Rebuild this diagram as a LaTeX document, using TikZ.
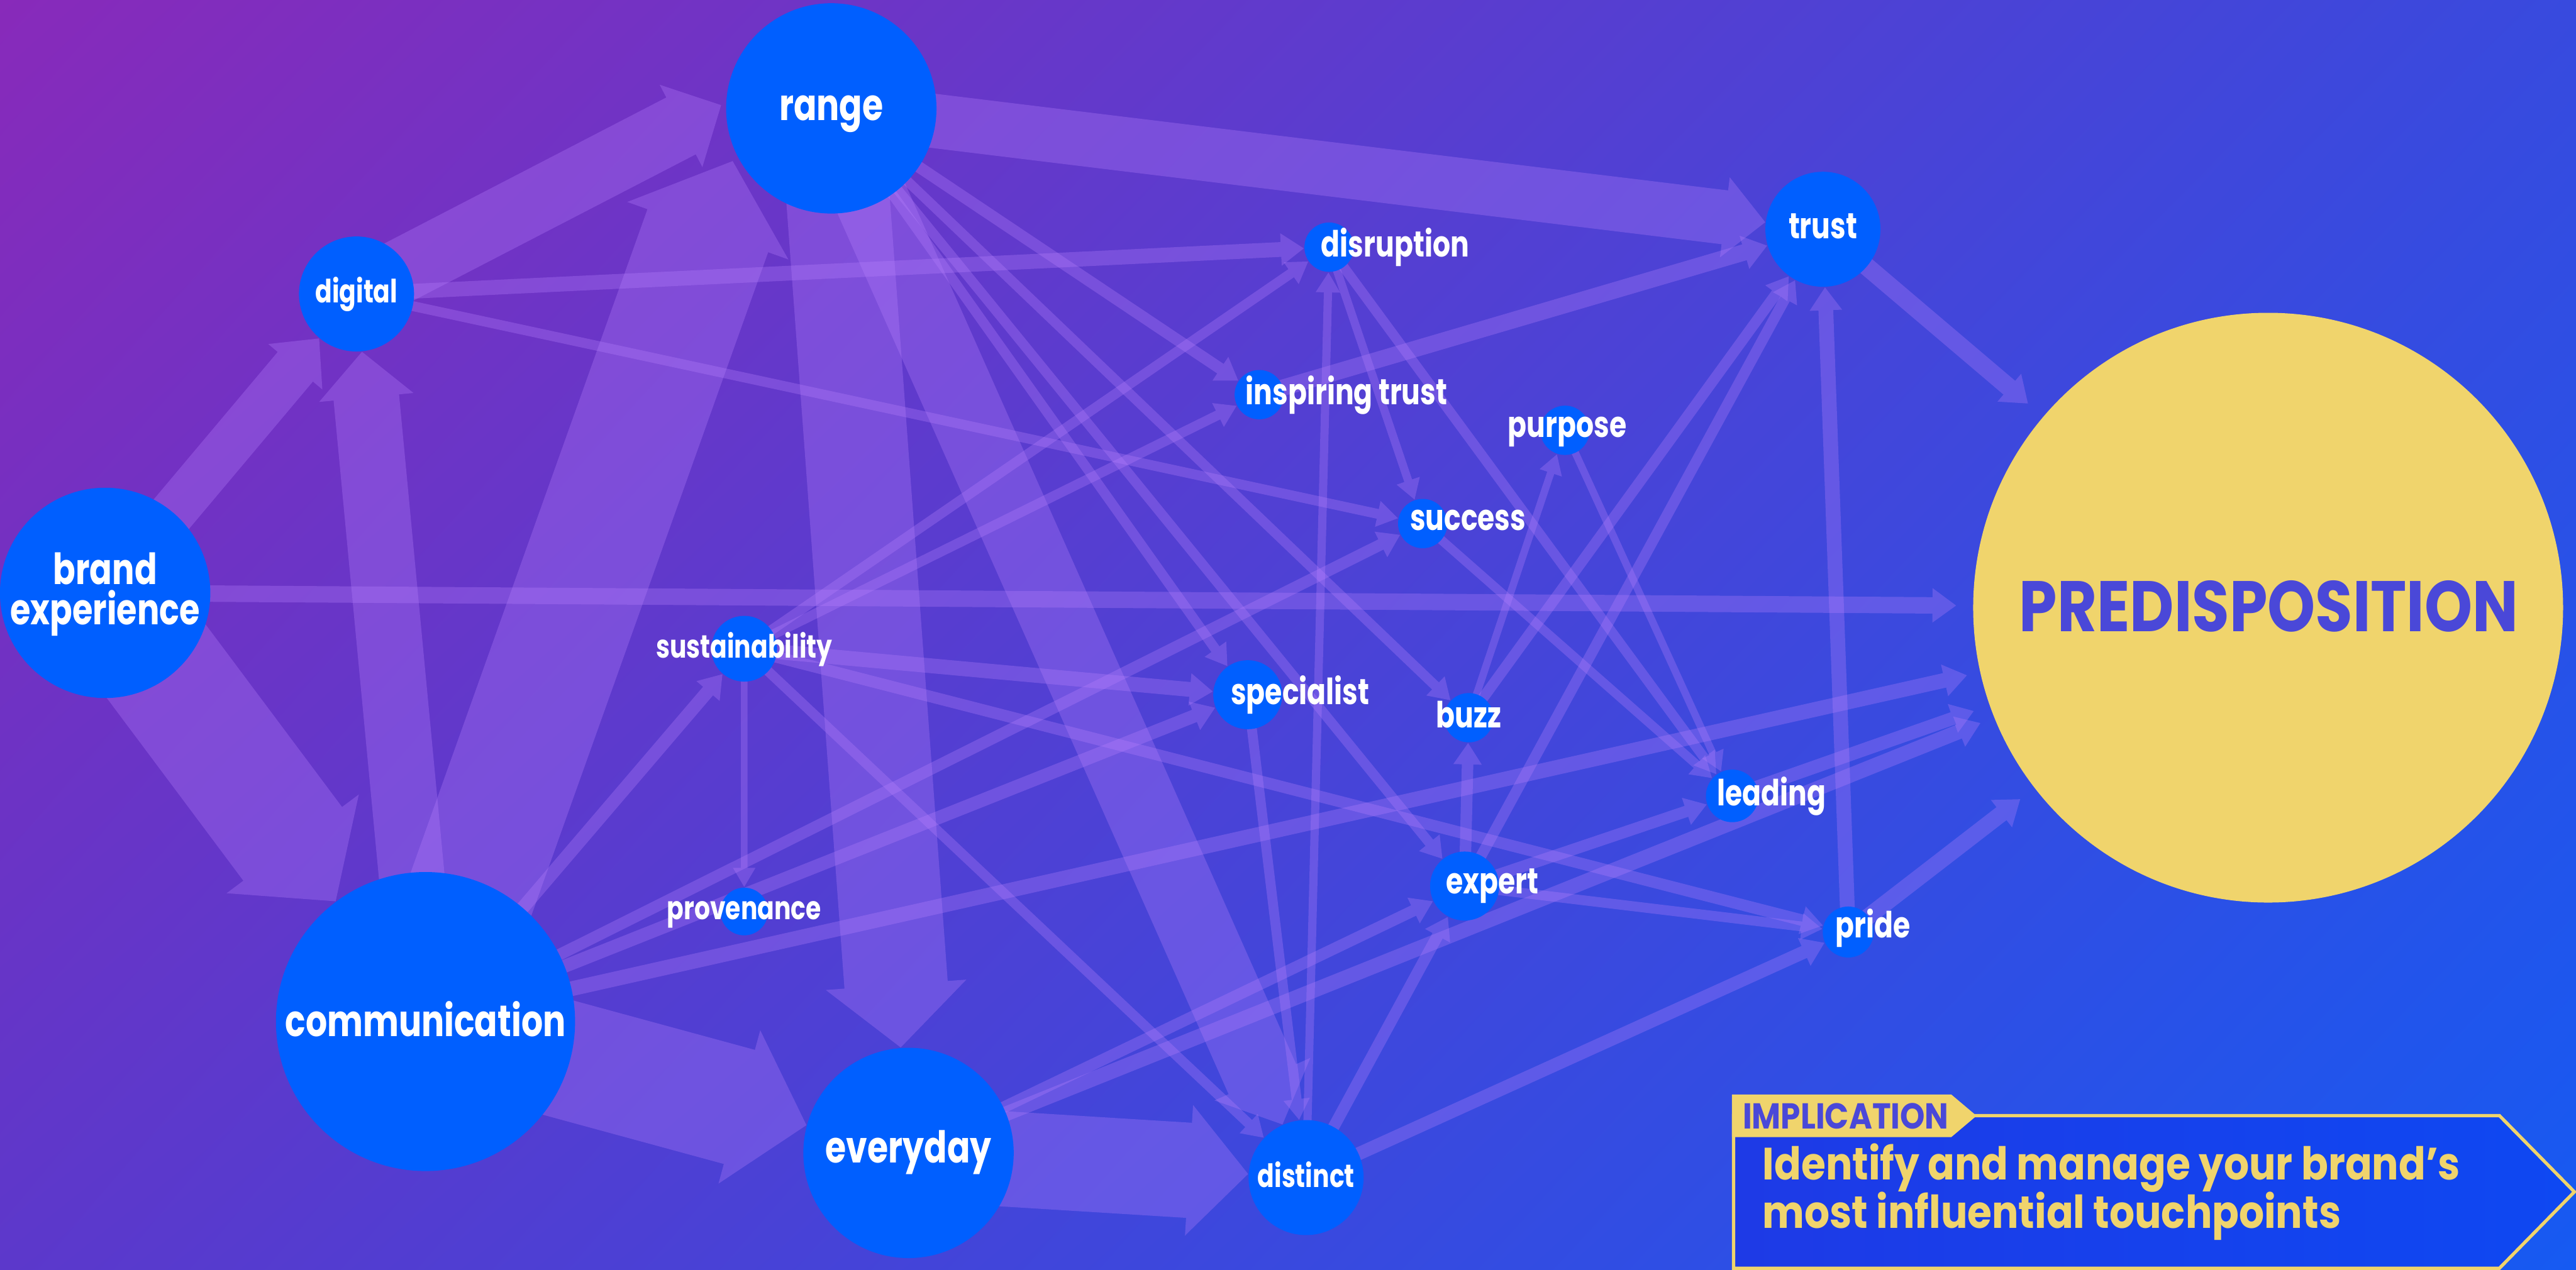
\documentclass[tikz,border=0pt]{standalone}
\usepackage{fontspec}
\setmainfont{Poppins}[FakeStretch=0.77]
\newfontfamily\widefont{Poppins}[FakeStretch=0.875]
\newfontfamily\predfont{Poppins}[FakeStretch=0.85]
\usetikzlibrary{arrows.meta,shadings}
\definecolor{nodeblue}{RGB}{0,95,255}
\definecolor{arcol}{RGB}{185,130,255}
\definecolor{predyel}{RGB}{240,212,108}
\definecolor{predtxt}{RGB}{74,72,216}
\definecolor{bgul}{RGB}{136,42,186}
\definecolor{bgur}{RGB}{56,74,222}
\definecolor{bgll}{RGB}{92,56,203}
\definecolor{bglr}{RGB}{22,90,242}
\definecolor{boxl}{RGB}{30,58,230}
\definecolor{boxr}{RGB}{14,72,242}
\pgfdeclarelayer{bgl}
\pgfdeclarelayer{arl}
\pgfsetlayers{bgl,arl,main}
\newcommand\fbig{\fontsize{19}{22}\selectfont\bfseries}
\newcommand\fbrd{\fontsize{18.6}{17.4}\selectfont\bfseries}
\newcommand\fmed{\fontsize{15.6}{18}\selectfont\bfseries}
\newcommand\fsml{\fontsize{13.9}{16}\selectfont\bfseries}
\newcommand\fpred{\predfont\fontsize{31}{34}\selectfont\bfseries}
\newcommand\fimp{\widefont\fontsize{15.6}{18}\selectfont\bfseries}
\newcommand\fmsg{\widefont\fontsize{19.6}{21}\selectfont\bfseries}
\newcommand\arw[4][]{\begin{scope}[transparency group,opacity=0.3]\draw[arcol,line width=#4*0.025cm,-{Triangle[length=0.25cm 0.45,width=0.2cm 1.2]},#1] (#2.center) -- (#3);\end{scope}}
\begin{document}
\begin{tikzpicture}[x=0.025cm,y=-0.025cm,
  nd/.style={circle,fill=nodeblue,inner sep=0pt,minimum size=#1*0.05cm},
  lb/.style={text=white,inner sep=0pt}]
\useasboundingbox (0,0) rectangle (1568,773);
\begin{pgfonlayer}{bgl}
\shade[upper left=bgul,upper right=bgur,lower left=bgll,lower right=bglr] (0,0) rectangle (1568,773);
\end{pgfonlayer}
% nodes
\node[nd=64] (rng) at (506,66) {};
\node[nd=35] (dig) at (217,179) {};
\node[nd=64] (brd) at (64,361) {};
\node[nd=91] (com) at (259,622) {};
\node[nd=64] (evd) at (553,702) {};
\node[nd=35] (dst) at (795,717) {};
\node[nd=20] (sus) at (453,395) {};
\node[nd=14.5] (prv) at (453,555) {};
\node[nd=21] (spc) at (759.5,423) {};
\node[nd=15] (buz) at (894,437) {};
\node[nd=21] (xpt) at (891.5,539.5) {};
\node[nd=16] (lea) at (1054.4,484.6) {};
\node[nd=15.5] (pri) at (1125,567.5) {};
\node[nd=15] (dis) at (809,150.5) {};
\node[nd=15] (ins) at (766.5,240.3) {};
\node[nd=15] (pur) at (952.6,262) {};
\node[nd=15] (suc) at (866,318.8) {};
\node[nd=35] (tru) at (1109.6,139.6) {};
\node[circle,fill=predyel,inner sep=0pt,minimum size=8.975cm] (pred) at (1380.6,370) {};
\coordinate (rngA) at (446,98);
\coordinate (rngB) at (439,64);
% connectors
\begin{pgfonlayer}{arl}
\arw{brd}{com}{75}
\arw{brd}{dig}{28}
\arw{com}{dig}{40}
\arw{dig}{rngB}{39}
\arw{com}{rngA}{78}
\arw{rng}{evd}{63}
\arw{rng}{dst}{45}
\arw{com}{evd}{72}
\arw{evd}{dst}{58}
\arw{rng}{tru}{33}
\arw[shorten >=0.25cm]{brd}{pred}{10}
\arw{dig}{dis}{9}
\arw{dig}{suc}{6}
\arw{rng}{ins}{7}
\arw{rng}{buz}{6}
\arw{rng}{xpt}{6}
\arw{rng}{spc}{6}
\arw{com}{sus}{8}
\arw{com}{suc}{7}
\arw{com}{spc}{8}
\arw[shorten >=0.2cm]{com}{pred}{9}
\arw{sus}{dis}{6}
\arw{sus}{ins}{6}
\arw{sus}{spc}{9}
\arw{sus}{prv}{4}
\arw{sus}{dst}{6}
\arw{sus}{pri}{7}
\arw{ins}{tru}{10}
\arw{dis}{suc}{5}
\arw{dis}{lea}{6}
\arw{suc}{lea}{5.5}
\arw{pur}{lea}{4.5}
\arw{buz}{pur}{4.5}
\arw{buz}{tru}{6.5}
\arw{xpt}{buz}{7}
\arw{xpt}{tru}{6.5}
\arw{xpt}{lea}{7}
\arw{xpt}{pri}{6}
\arw{evd}{xpt}{7}
\arw[shorten >=0.22cm]{evd}{pred}{9}
\arw{dst}{dis}{5}
\arw{dst}{xpt}{7}
\arw{dst}{pri}{8}
\arw{spc}{dst}{6}
\arw[shorten >=0.25cm]{lea}{pred}{8}
\arw{pri}{tru}{9}
\arw[shorten >=0.27cm]{pri}{pred}{10}
\arw[shorten >=0.3cm]{tru}{pred}{11}
\end{pgfonlayer}
% labels
\node[lb,font=\fbig,anchor=base] (t-rng) at (506,73.4) {range};
\node[lb,font=\fbig,anchor=base] (t-com) at (259,631) {communication};
\node[lb,font=\fbig,anchor=base] (t-evd) at (553,708.2) {everyday};
\node[lb,font=\fbrd,align=center] (t-brd) at (64,362) {brand\\experience};
\node[lb,font=\fsml,anchor=base] (t-dig) at (217,184.3) {digital};
\node[lb,font=\fmed,anchor=base] (t-tru) at (1109.6,145.4) {trust};
\node[lb,font=\fsml,anchor=base] (t-sus) at (453,400.8) {sustainability};
\node[lb,font=\fsml,anchor=base] (t-prv) at (453,559.8) {provenance};
\node[lb,font=\fsml,anchor=base] (t-dst) at (795,723) {distinct};
\node[lb,font=\fmed,anchor=base] (t-buz) at (894,443) {buzz};
\node[lb,font=\fmed,anchor=base] (t-pur) at (954,266.1) {purpose};
\node[lb,font=\fmed,anchor=base west] (t-dis) at (804,156.5) {disruption};
\node[lb,font=\fmed,anchor=base west] (t-ins) at (758,246.4) {inspiring trust};
\node[lb,font=\fmed,anchor=base west] (t-suc) at (858,322.8) {success};
\node[lb,font=\fmed,anchor=base west] (t-spc) at (749,428.8) {specialist};
\node[lb,font=\fmed,anchor=base west] (t-xpt) at (880,544.2) {expert};
\node[lb,font=\fmed,anchor=base west] (t-lea) at (1045,490.5) {leading};
\node[lb,font=\fmed,anchor=base west] (t-pri) at (1117,571.1) {pride};
\node[inner sep=0pt,text=predtxt,font=\fpred,anchor=base] (t-pred) at (1381,384.5) {PREDISPOSITION};
% implication box
\shade[left color=boxl,right color=boxr] (1055.2,679.3) -- (1521.4,679.3) -- (1567,725.7) -- (1521.4,772.2) -- (1055.2,772.2) -- cycle;
\draw[predyel,line width=0.05cm] (1055.2,679.3) -- (1521.4,679.3) -- (1567,725.7) -- (1521.4,772.2) -- (1055.2,772.2) -- cycle;
\fill[predyel] (1054.2,666.4) -- (1187.7,666.4) -- (1203.1,679.4) -- (1187.7,692.4) -- (1054.2,692.4) -- cycle;
\node[inner sep=0pt,text=predtxt,font=\fimp,anchor=west] (t-imp) at (1060.5,679.6) {IMPLICATION};
\node[inner sep=0pt,text=predyel,font=\fmsg,anchor=base west] (t-msg1) at (1072.7,718.5) {Identify and manage your brand’s};
\node[inner sep=0pt,text=predyel,font=\fmsg,anchor=base west] (t-msg2) at (1072.7,748) {most influential touchpoints};
\end{tikzpicture}
\end{document}
